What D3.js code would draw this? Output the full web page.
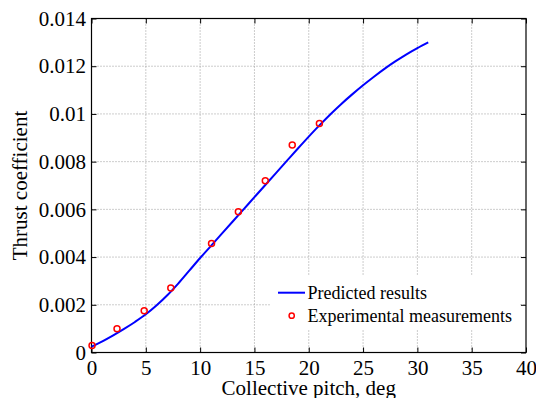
<!DOCTYPE html>
<html>
<head>
<meta charset="utf-8">
<script src="https://cdn.jsdelivr.net/npm/d3@7"></script>
<style>
  html, body { margin: 0; padding: 0; background: #fff; }
  svg { display: block; }
  svg text { font-family: "Liberation Serif", "Times New Roman", serif !important; }
</style>
</head>
<body>
<svg id="chart" width="536" height="398"></svg>
<script>
// Predicted curve (collective pitch in deg, thrust coefficient)
const predictedPitch = [0, 1, 2, 3, 4, 5, 6, 7, 8, 9, 10, 11, 12, 13, 14, 15, 16, 17, 18, 19, 20, 21, 22, 23, 24, 25, 26, 27, 28, 29, 30, 31];
const predictedCT    = [0.00025, 0.00047, 0.00072, 0.00099, 0.00128, 0.00160, 0.00198, 0.00241, 0.00290, 0.00343, 0.00396, 0.00447, 0.00498, 0.00549, 0.00600, 0.00651, 0.00702, 0.00753, 0.00804, 0.00855, 0.00905, 0.00953, 0.00999, 0.01042, 0.01082, 0.01120, 0.01156, 0.01190, 0.01221, 0.01250, 0.01276, 0.01300];
// Experimental measurements
const expPitch = [0.05, 2.35, 4.85, 7.3, 11.05, 13.52, 16.0, 18.48, 20.98];
const expCT    = [0.00029, 0.00100, 0.00175, 0.00270, 0.00457, 0.00590, 0.00720, 0.00870, 0.00960];
// Ticks
const xTicks = [0, 5, 10, 15, 20, 25, 30, 35, 40];
const yTicks = [0, 0.002, 0.004, 0.006, 0.008, 0.010, 0.012, 0.014];
const yTickLabels = ["0", "0.002", "0.004", "0.006", "0.008", "0.01", "0.012", "0.014"];
const legendLabels = ["Predicted results", "Experimental measurements"];

const svg = d3.select("#chart");
const m = { left: 91.5, top: 18.5, right: 526, bottom: 352.5 };
const x = d3.scaleLinear().domain([0, 40]).range([m.left, m.right]);
const y = d3.scaleLinear().domain([0, 0.014]).range([m.bottom, m.top]);

// Grid
const grid = svg.append("g");
grid.selectAll(".gx").data(xTicks.slice(1, -1)).join("line")
  .attr("x1", d => x(d)).attr("x2", d => x(d))
  .attr("y1", m.top).attr("y2", m.bottom)
  .attr("stroke", "#9a9a9a").attr("stroke-width", 1).attr("stroke-dasharray", "1,2");
grid.selectAll(".gy").data(yTicks.slice(1, -1)).join("line")
  .attr("x1", m.left).attr("x2", m.right)
  .attr("y1", d => y(d)).attr("y2", d => y(d))
  .attr("stroke", "#9a9a9a").attr("stroke-width", 1).attr("stroke-dasharray", "1,2");

// Legend background (hides grid)
const legend = svg.append("g");
legend.append("rect").attr("x", 270).attr("y", 275).attr("width", 250).attr("height", 55).attr("fill", "#fff");

// Axes
const tickLen = 5;
const bottomAxis = d3.axisBottom(x).tickValues(xTicks).tickSizeInner(-tickLen).tickSizeOuter(0).tickPadding(7.5).tickFormat(d3.format("d"));
const leftAxis = d3.axisLeft(y).tickValues(yTicks).tickSizeInner(-tickLen).tickSizeOuter(0).tickPadding(5.5)
  .tickFormat((d, i) => yTickLabels[i]);
const topAxis = d3.axisTop(x).tickValues(xTicks).tickSizeInner(-tickLen).tickSizeOuter(0).tickFormat("");
const rightAxis = d3.axisRight(y).tickValues(yTicks).tickSizeInner(-tickLen).tickSizeOuter(0).tickFormat("");

function styleAxis(g) {
  g.attr("font-family", null).attr("font-size", null);
  g.select(".domain").remove();
  g.selectAll(".tick line").attr("stroke", "#000").attr("stroke-width", 1);
  g.selectAll(".tick text").attr("fill", "#000").style("font-size", "21px");
}
svg.append("g").attr("transform", `translate(0,${m.bottom})`).call(bottomAxis).call(styleAxis);
svg.append("g").attr("transform", `translate(${m.left},0)`).call(leftAxis).call(styleAxis);
svg.append("g").attr("transform", `translate(0,${m.top})`).call(topAxis).call(styleAxis);
svg.append("g").attr("transform", `translate(${m.right},0)`).call(rightAxis).call(styleAxis);

svg.append("rect").attr("x", m.left).attr("y", m.top)
  .attr("width", m.right - m.left).attr("height", m.bottom - m.top)
  .attr("fill", "none").attr("stroke", "#000").attr("stroke-width", 1.2);

// Predicted line
const predicted = predictedPitch.map((p, i) => [p, predictedCT[i]]);
svg.append("path").datum(predicted)
  .attr("fill", "none").attr("stroke", "#0000ff").attr("stroke-width", 2)
  .attr("d", d3.line().x(d => x(d[0])).y(d => y(d[1])).curve(d3.curveMonotoneX));

// Experimental points
const exp = expPitch.map((p, i) => [p, expCT[i]]);
svg.append("g").selectAll("circle").data(exp).join("circle")
  .attr("cx", d => x(d[0])).attr("cy", d => y(d[1])).attr("r", 3)
  .attr("fill", "none").attr("stroke", "#ff0000").attr("stroke-width", 1.5);

// Legend
legend.append("line").attr("x1", 278).attr("x2", 305).attr("y1", 292.7).attr("y2", 292.7)
  .attr("stroke", "#0000ff").attr("stroke-width", 2);
legend.append("circle").attr("cx", 291.7).attr("cy", 315.7).attr("r", 2.6)
  .attr("fill", "none").attr("stroke", "#ff0000").attr("stroke-width", 1.5);
legend.selectAll("text").data(legendLabels).join("text")
  .attr("x", 307.5).attr("y", (d, i) => 299 + i * 23)
  .style("font-size", "18px").attr("fill", "#000").text(d => d);

// Axis labels
svg.append("text").attr("x", (m.left + m.right) / 2).attr("y", 395)
  .attr("text-anchor", "middle").style("font-size", "21px").text("Collective pitch, deg");
svg.append("text").attr("transform", `translate(26.7,${(m.top + m.bottom) / 2}) rotate(-90)`)
  .attr("text-anchor", "middle").style("font-size", "21px").text("Thrust coefficient");
</script>
</body>
</html>
